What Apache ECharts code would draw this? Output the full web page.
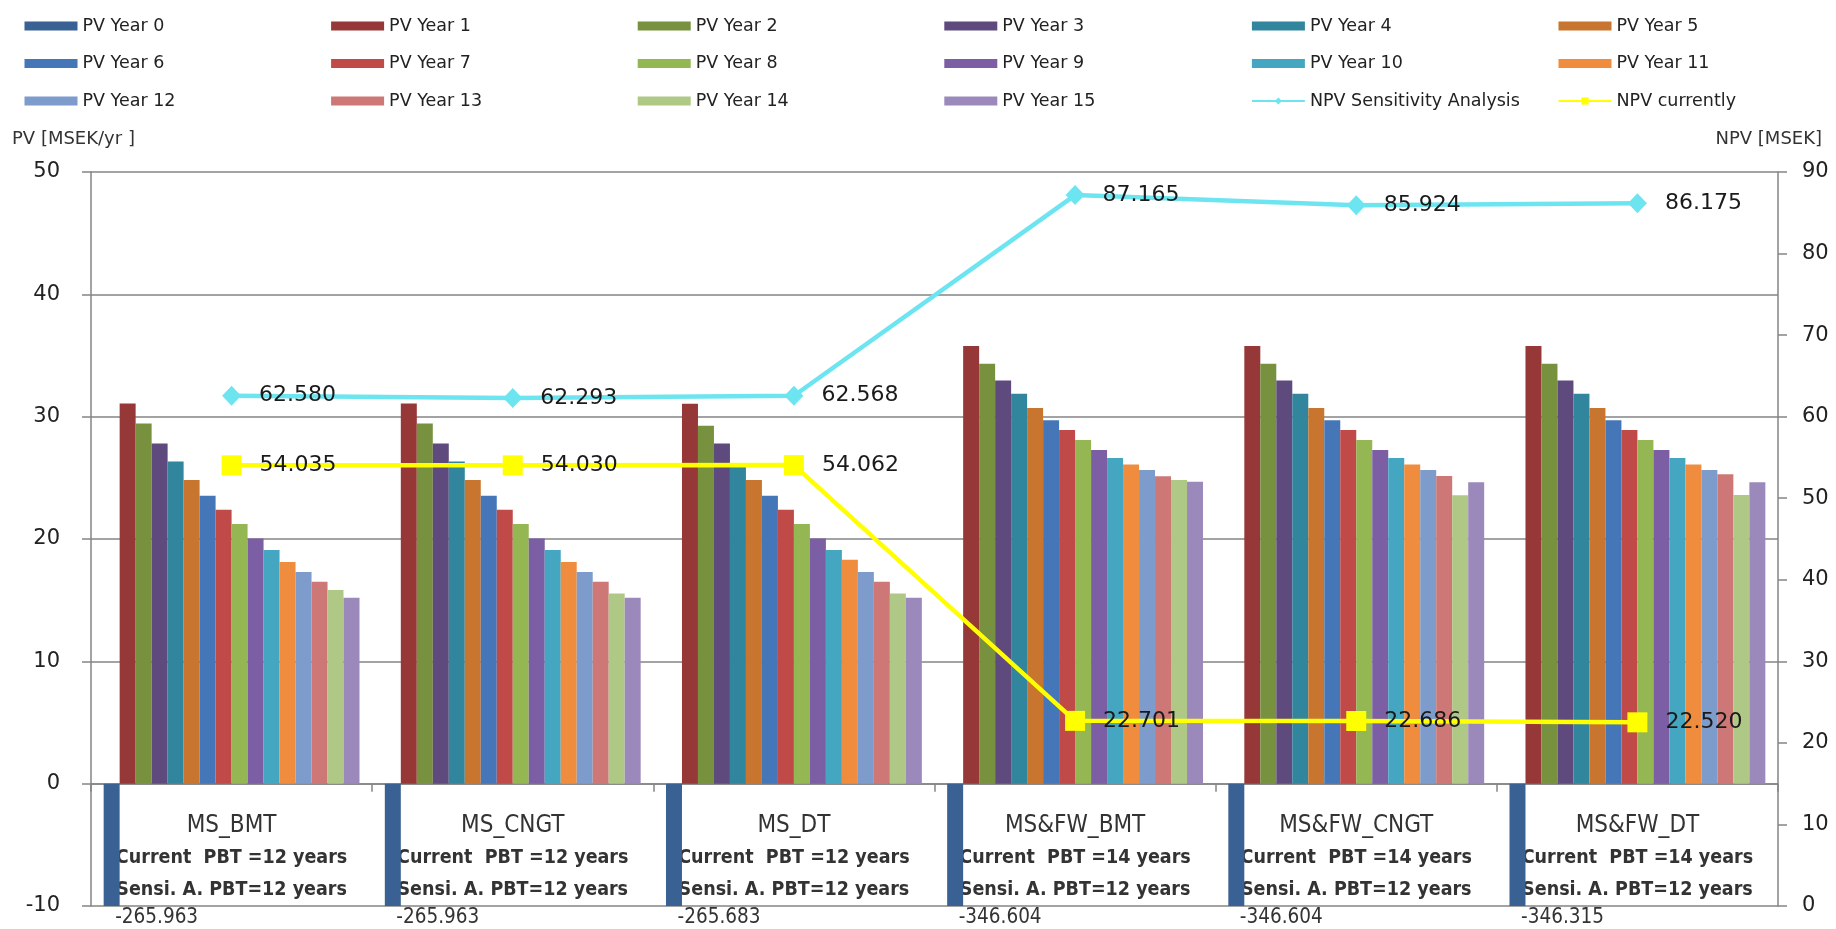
<!DOCTYPE html>
<html>
<head>
<meta charset="utf-8">
<title>PV and NPV per scenario</title>
<script src="https://cdn.jsdelivr.net/npm/echarts@6/dist/echarts.min.js"></script>
<style>
  html, body { margin: 0; padding: 0; background: #ffffff; }
  #chart { width: 1836px; height: 929px; }
</style>
</head>
<body>
<div id="chart"></div>
<script>
// Scenarios on the category axis
const categories = ['MS_BMT', 'MS_CNGT', 'MS_DT', 'MS&FW_BMT', 'MS&FW_CNGT', 'MS&FW_DT'];
const currentPBT = [12, 12, 12, 14, 14, 14];
const sensiPBT = [12, 12, 12, 12, 12, 12];

// Present value per year (index 0 = investment year), MSEK/yr
const pvMsBmt    = [-265.963, 31.08, 29.45, 27.80, 26.33, 24.83, 23.53, 22.39, 21.22, 20.05, 19.10, 18.13, 17.31, 16.50, 15.84, 15.19];
const pvMsCngt   = [-265.963, 31.08, 29.45, 27.80, 26.33, 24.83, 23.53, 22.39, 21.22, 20.05, 19.10, 18.13, 17.31, 16.50, 15.55, 15.19];
const pvMsDt     = [-265.683, 31.05, 29.25, 27.80, 26.10, 24.83, 23.53, 22.39, 21.22, 20.05, 19.10, 18.30, 17.31, 16.50, 15.55, 15.19];
const pvMsFwBmt  = [-346.604, 35.77, 34.33, 32.95, 31.87, 30.70, 29.70, 28.90, 28.10, 27.28, 26.63, 26.10, 25.65, 25.13, 24.83, 24.67];
const pvMsFwCngt = [-346.604, 35.77, 34.33, 32.95, 31.87, 30.70, 29.70, 28.90, 28.10, 27.28, 26.63, 26.10, 25.65, 25.14, 23.57, 24.63];
const pvMsFwDt   = [-346.315, 35.77, 34.33, 32.95, 31.87, 30.70, 29.70, 28.90, 28.10, 27.28, 26.63, 26.10, 25.65, 25.29, 23.60, 24.63];

// Net present value, MSEK
const npvSensitivity = [62.580, 62.293, 62.568, 87.165, 85.924, 86.175];
const npvCurrently   = [54.035, 54.030, 54.062, 22.701, 22.686, 22.520];

// Axis ticks
const pvTicks = { min: -10, max: 50, step: 10 };
const npvTicks = { min: 0, max: 90, step: 10 };

const yearNames = Array.from({ length: 16 }, (_, i) => 'PV Year ' + i);
const yearColors = [
  '#3A6193', '#953837', '#77913F', '#5F4A7D', '#31859C', '#C8762F',
  '#4577B8', '#C04A48', '#94B653', '#7B5EA4', '#45A6C2', '#F08C3E',
  '#7D9CCB', '#CD7876', '#B0C886', '#9C89BC'
];
const scenarioRows = [pvMsBmt, pvMsCngt, pvMsDt, pvMsFwBmt, pvMsFwCngt, pvMsFwDt];

const numFont = 'DejaVu Sans';
const textFont = '"DejaVu Sans Condensed", "Liberation Sans", sans-serif';

const barSeries = yearNames.map((name, y) => {
  const s = {
    name: name,
    type: 'bar',
    yAxisIndex: 0,
    barGap: '0%',
    barCategoryGap: '9%',
    itemStyle: { color: yearColors[y] },
    emphasis: { disabled: true },
    data: scenarioRows.map(row => row[y])
  };
  if (y === 0) {
    // the investment-year bar runs far below the axis minimum; its value sits under the plot
    s.label = {
      show: true,
      position: 'bottom',
      distance: 1,
      offset: [45, 0],
      fontFamily: textFont,
      fontSize: 20.5,
      color: '#333',
      formatter: p => p.value.toFixed(3)
    };
  }
  return s;
});

const lineLabel = {
  show: true,
  position: 'right',
  distance: 18,
  fontFamily: numFont,
  fontSize: 22,
  color: '#1a1a1a',
  formatter: p => p.value.toFixed(3)
};

const series = barSeries.concat([
  {
    name: 'NPV Sensitivity Analysis',
    type: 'line',
    yAxisIndex: 1,
    z: 5,
    symbol: 'diamond',
    symbolSize: [19, 20],
    lineStyle: { color: '#6CE5F1', width: 4.5 },
    itemStyle: { color: '#6CE5F1' },
    label: lineLabel,
    emphasis: { disabled: true },
    data: npvSensitivity
  },
  {
    name: 'NPV currently',
    type: 'line',
    yAxisIndex: 1,
    z: 5,
    symbol: 'rect',
    symbolSize: 20,
    lineStyle: { color: '#FFFF00', width: 4.5 },
    itemStyle: { color: '#FFFF00' },
    label: lineLabel,
    emphasis: { disabled: true },
    data: npvCurrently
  }
]);

// Legend: six columns, three rows
const legendNames = yearNames.concat(['NPV Sensitivity Analysis', 'NPV currently']);
const legendCols = [0, 1, 2, 3, 4, 5].map(c => ({
  orient: 'vertical',
  left: 19.5 + 306.6 * c,
  top: 11,
  itemGap: 17.5,
  itemWidth: 53,
  itemHeight: 9,
  itemTextGap: 7,
  selectedMode: false,
  textStyle: { fontFamily: numFont, fontSize: 17.5, color: '#222', lineHeight: 20 },
  data: [legendNames[c], legendNames[c + 6], legendNames[c + 12]].map(n => (
    n.startsWith('PV') ? { name: n, icon: 'rect' } : { name: n }
  ))
}));

const gridColor = '#858585';

const option = {
  animation: false,
  backgroundColor: '#ffffff',
  legend: legendCols,
  grid: { left: 91, right: 58, top: 172, bottom: 23, containLabel: false, outerBoundsMode: 'none' },
  xAxis: {
    type: 'category',
    data: categories,
    axisLine: { onZero: true, onZeroAxisIndex: 0, lineStyle: { color: gridColor, width: 1.5 } },
    axisTick: { show: true, length: 8, lineStyle: { color: gridColor, width: 1.5 } },
    axisLabel: {
      inside: true,
      margin: 0,
      interval: 0,
      formatter: (v, i) => '{a|' + v + '}\n{b|Current  PBT =' + currentPBT[i] + ' years}\n{b|Sensi. A. PBT=' + sensiPBT[i] + ' years}',
      rich: {
        a: { fontFamily: textFont, fontSize: 24, color: '#333', lineHeight: 32 },
        b: { fontFamily: textFont, fontSize: 19.5, fontWeight: 'bold', color: '#333', lineHeight: 32 }
      }
    }
  },
  yAxis: [
    {
      type: 'value',
      min: pvTicks.min,
      max: pvTicks.max,
      interval: pvTicks.step,
      axisLine: { show: true, lineStyle: { color: gridColor, width: 1.5 } },
      axisTick: { show: true, length: 9, lineStyle: { color: gridColor, width: 1.5 } },
      axisLabel: { margin: 31, fontFamily: numFont, fontSize: 21, color: '#222' },
      splitLine: { show: true, lineStyle: { color: gridColor, width: 1.5 } }
    },
    {
      type: 'value',
      min: npvTicks.min,
      max: npvTicks.max,
      interval: npvTicks.step,
      position: 'right',
      axisLine: { show: true, lineStyle: { color: gridColor, width: 1.5 } },
      axisTick: { show: true, length: 9, lineStyle: { color: gridColor, width: 1.5 } },
      axisLabel: { margin: 24, fontFamily: numFont, fontSize: 21, color: '#222' },
      splitLine: { show: false }
    }
  ],
  graphic: [
    {
      type: 'text', left: 12, top: 130,
      style: { text: 'PV [MSEK/yr ]', font: '18px ' + numFont, fill: '#333' }
    },
    {
      type: 'text', right: 14, top: 130,
      style: { text: 'NPV [MSEK]', font: '18px ' + numFont, fill: '#333' }
    }
  ],
  series: series
};

const chart = echarts.init(document.getElementById('chart'), null, { renderer: 'canvas' });
chart.setOption(option);
</script>
</body>
</html>
